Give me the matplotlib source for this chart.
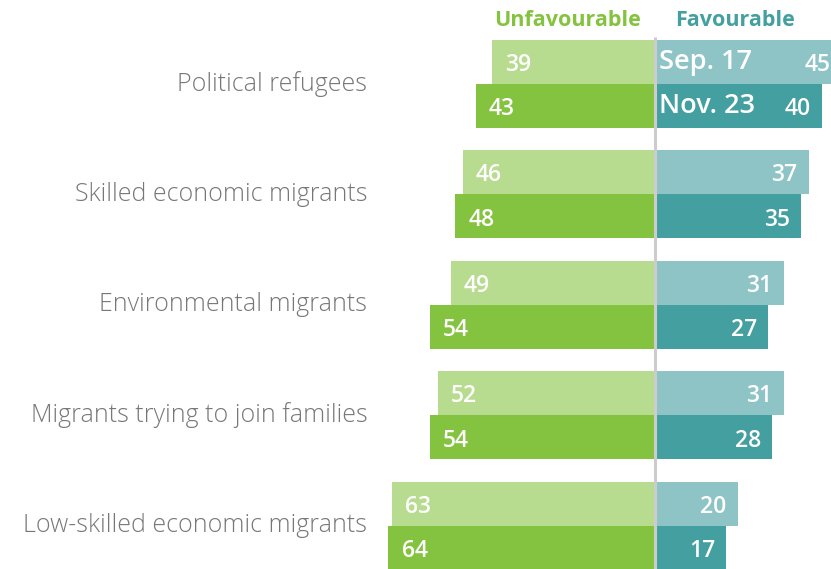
import matplotlib.pyplot as plt

# data
categories = ["Political refugees", "Skilled economic migrants", "Environmental migrants",
              "Migrants trying to join families", "Low-skilled economic migrants"]
unfav_sep = [39, 46, 49, 52, 63]
unfav_nov = [43, 48, 54, 54, 64]
fav_sep = [45, 37, 31, 31, 20]
fav_nov = [40, 35, 27, 28, 17]

light_green = "#b8dc8f"
dark_green = "#84c33f"
light_teal = "#8fc4c7"
dark_teal = "#449fa0"

plt.rcParams['font.family'] = ['Open Sans', 'DejaVu Sans']

fig = plt.figure(figsize=(8.31, 5.69), dpi=100)
ax = fig.add_axes([0, 0, 1, 1])
ax.set_xlim(-157.1, 42.2)
ax.set_ylim(4.391, -0.758)
ax.axis('off')

h = 0.4
for i, cat in enumerate(categories):
    ys, yn = i - 0.2, i + 0.2
    ax.barh(ys, -unfav_sep[i], height=h, color=light_green)
    ax.barh(yn, -unfav_nov[i], height=h, color=dark_green)
    ax.barh(ys, fav_sep[i], height=h, color=light_teal)
    ax.barh(yn, fav_nov[i], height=h, color=dark_teal)

    ax.text(-unfav_sep[i] + 3.0, ys + 0.03, str(unfav_sep[i]), color="white", fontsize=16.5,
            fontweight="semibold", ha="left", va="center")
    ax.text(-unfav_nov[i] + 3.2, yn + 0.03, str(unfav_nov[i]), color="white", fontsize=16.5,
            fontweight="semibold", ha="left", va="center")
    ax.text(fav_sep[i] - 3.0, ys + 0.03, str(fav_sep[i]), color="white", fontsize=16.5,
            fontweight="semibold", ha="right", va="center")
    ax.text(fav_nov[i] - 2.6, yn + 0.03, str(fav_nov[i]), color="white", fontsize=16.5,
            fontweight="semibold", ha="right", va="center")

    ax.text(-69.0, i, cat, color="#777777", fontsize=18, fontweight="light",
            ha="right", va="center")

ax.text(0.9, -0.2, "Sep. 17", color="white", fontsize=19.5, fontweight="semibold",
        ha="left", va="center")
ax.text(0.9, 0.2, "Nov. 23", color="white", fontsize=19.5, fontweight="semibold",
        ha="left", va="center")

ax.text(-21, -0.575, "Unfavourable", color=dark_green, fontsize=15.5, fontweight="bold",
        ha="center", va="center")
ax.text(19.2, -0.575, "Favourable", color=dark_teal, fontsize=15.5, fontweight="bold",
        ha="center", va="center")

ax.plot([0, 0], [-0.42, 4.391], color="#cccccc", lw=2.2, solid_capstyle="butt")

fig.savefig("out.png", dpi=100)
